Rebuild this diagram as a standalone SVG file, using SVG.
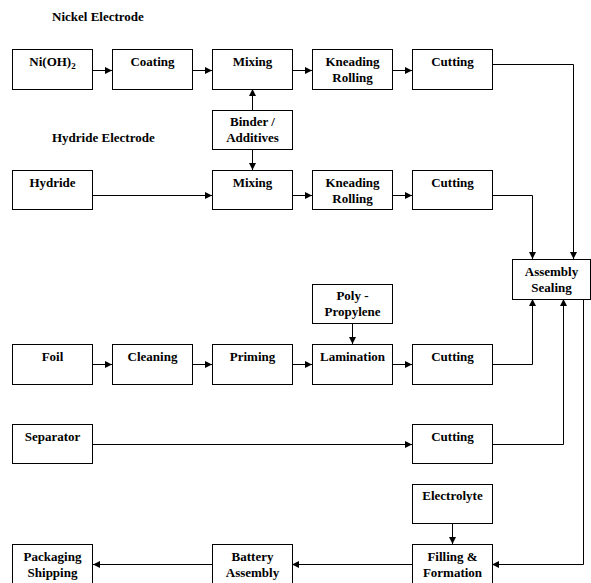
<svg xmlns="http://www.w3.org/2000/svg" width="591" height="583" viewBox="0 0 591 583">
<defs>
<style>
.box{fill:#fff;stroke:#000;stroke-width:1}
.t{font-family:"Liberation Serif","Times New Roman",serif;font-weight:bold;font-size:13px;fill:#000;text-anchor:middle}
.h{font-family:"Liberation Serif","Times New Roman",serif;font-weight:bold;font-size:13px;fill:#000}
.c{fill:none;stroke:#000;stroke-width:1}
</style>
<marker id="ah" markerUnits="userSpaceOnUse" markerWidth="8" markerHeight="8" refX="7" refY="3.5" orient="auto">
<path d="M0,0 L7,3.5 L0,7 z" fill="#000"/>
</marker>
</defs>
<rect width="591" height="583" fill="#fff"/>
<text class="h" x="52" y="21">Nickel Electrode</text>
<text class="h" x="52" y="142">Hydride Electrode</text>
<g id="connectors">
<path class="c" d="M93,70.5 H112" marker-end="url(#ah)"/>
<path class="c" d="M192,70.5 H212" marker-end="url(#ah)"/>
<path class="c" d="M292,70.5 H312" marker-end="url(#ah)"/>
<path class="c" d="M392,70.5 H412" marker-end="url(#ah)"/>
<path class="c" d="M492,64.5 H573.5 V259" marker-end="url(#ah)"/>
<path class="c" d="M252.5,110 V89" marker-end="url(#ah)"/>
<path class="c" d="M252.5,149 V170" marker-end="url(#ah)"/>
<path class="c" d="M93,195.5 H212" marker-end="url(#ah)"/>
<path class="c" d="M292,195.5 H312" marker-end="url(#ah)"/>
<path class="c" d="M392,195.5 H412" marker-end="url(#ah)"/>
<path class="c" d="M492,195.5 H532.5 V259" marker-end="url(#ah)"/>
<path class="c" d="M93,364.5 H112" marker-end="url(#ah)"/>
<path class="c" d="M192,364.5 H212" marker-end="url(#ah)"/>
<path class="c" d="M292,364.5 H312" marker-end="url(#ah)"/>
<path class="c" d="M392,364.5 H412" marker-end="url(#ah)"/>
<path class="c" d="M352.5,323 V344" marker-end="url(#ah)"/>
<path class="c" d="M492,364.5 H532.5 V299" marker-end="url(#ah)"/>
<path class="c" d="M93,444.5 H412" marker-end="url(#ah)"/>
<path class="c" d="M492,444.5 H563.5 V299" marker-end="url(#ah)"/>
<path class="c" d="M583.5,299 V564.5 H492" marker-end="url(#ah)"/>
<path class="c" d="M452.5,523 V544" marker-end="url(#ah)"/>
<path class="c" d="M412,564.5 H292" marker-end="url(#ah)"/>
<path class="c" d="M212,564.5 H93" marker-end="url(#ah)"/>
</g>
<g id="nioh2"><rect class="box" x="12.5" y="49.5" width="80" height="40"/><text class="t" x="52.5" y="66">Ni(OH)<tspan font-size="9" dy="3">2</tspan></text></g>
<g id="coating"><rect class="box" x="112.5" y="49.5" width="80" height="40"/><text class="t" x="152.5" y="66">Coating</text></g>
<g id="mixing1"><rect class="box" x="212.5" y="49.5" width="80" height="40"/><text class="t" x="252.5" y="66">Mixing</text></g>
<g id="kneading1"><rect class="box" x="312.5" y="49.5" width="80" height="40"/><text class="t" x="352.5" y="66">Kneading</text><text class="t" x="352.5" y="82">Rolling</text></g>
<g id="cutting1"><rect class="box" x="412.5" y="49.5" width="80" height="40"/><text class="t" x="452.5" y="66">Cutting</text></g>
<g id="binder"><rect class="box" x="212.5" y="110.5" width="80" height="39"/><text class="t" x="252.5" y="126">Binder /</text><text class="t" x="252.5" y="142">Additives</text></g>
<g id="hydride"><rect class="box" x="12.5" y="170.5" width="80" height="39"/><text class="t" x="52.5" y="187">Hydride</text></g>
<g id="mixing2"><rect class="box" x="212.5" y="170.5" width="80" height="39"/><text class="t" x="252.5" y="187">Mixing</text></g>
<g id="kneading2"><rect class="box" x="312.5" y="170.5" width="80" height="39"/><text class="t" x="352.5" y="187">Kneading</text><text class="t" x="352.5" y="203">Rolling</text></g>
<g id="cutting2"><rect class="box" x="412.5" y="170.5" width="80" height="39"/><text class="t" x="452.5" y="187">Cutting</text></g>
<g id="assembly"><rect class="box" x="512.5" y="259.5" width="78" height="40"/><text class="t" x="551.5" y="276">Assembly</text><text class="t" x="551.5" y="292">Sealing</text></g>
<g id="polypropylene"><rect class="box" x="312.5" y="284.5" width="80" height="39"/><text class="t" x="352.5" y="300">Poly -</text><text class="t" x="352.5" y="316">Propylene</text></g>
<g id="foil"><rect class="box" x="12.5" y="344.5" width="80" height="40"/><text class="t" x="52.5" y="361">Foil</text></g>
<g id="cleaning"><rect class="box" x="112.5" y="344.5" width="80" height="40"/><text class="t" x="152.5" y="361">Cleaning</text></g>
<g id="priming"><rect class="box" x="212.5" y="344.5" width="80" height="40"/><text class="t" x="252.5" y="361">Priming</text></g>
<g id="lamination"><rect class="box" x="312.5" y="344.5" width="80" height="40"/><text class="t" x="352.5" y="361">Lamination</text></g>
<g id="cutting3"><rect class="box" x="412.5" y="344.5" width="80" height="40"/><text class="t" x="452.5" y="361">Cutting</text></g>
<g id="separator"><rect class="box" x="12.5" y="424.5" width="80" height="39"/><text class="t" x="52.5" y="441">Separator</text></g>
<g id="cutting4"><rect class="box" x="412.5" y="424.5" width="80" height="39"/><text class="t" x="452.5" y="441">Cutting</text></g>
<g id="electrolyte"><rect class="box" x="412.5" y="484.5" width="80" height="39"/><text class="t" x="452.5" y="500">Electrolyte</text></g>
<g id="filling"><rect class="box" x="412.5" y="544.5" width="80" height="40"/><text class="t" x="452.5" y="561">Filling &amp;</text><text class="t" x="452.5" y="577">Formation</text></g>
<g id="battery"><rect class="box" x="212.5" y="544.5" width="80" height="40"/><text class="t" x="252.5" y="561">Battery</text><text class="t" x="252.5" y="577">Assembly</text></g>
<g id="packaging"><rect class="box" x="12.5" y="544.5" width="80" height="40"/><text class="t" x="52.5" y="561">Packaging</text><text class="t" x="52.5" y="577">Shipping</text></g>
</svg>
